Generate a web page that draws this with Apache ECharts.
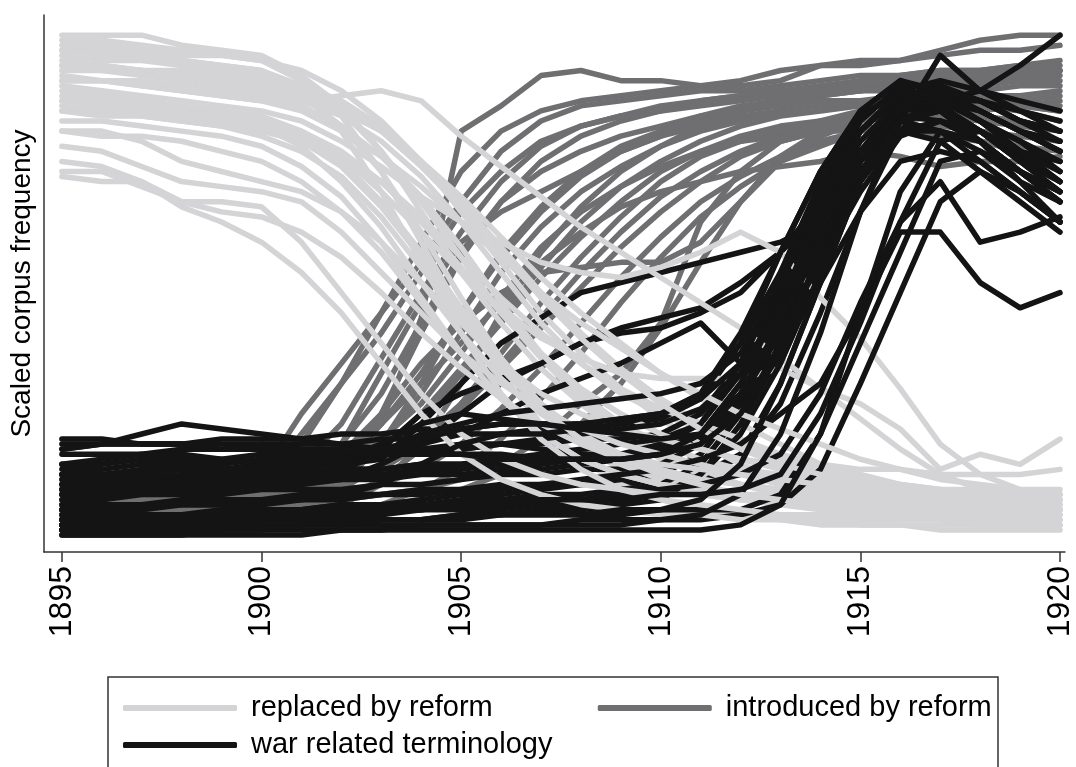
<!DOCTYPE html>
<html><head><meta charset="utf-8">
<script src="https://cdn.jsdelivr.net/npm/echarts@6/dist/echarts.min.js"></script>
<style>html,body{margin:0;padding:0;background:#fff}#c{width:1076px;height:767px}</style>
</head><body><div id="c"></div>
<script>
const years = [1895,1896,1897,1898,1899,1900,1901,1902,1903,1904,1905,1906,1907,1908,1909,1910,1911,1912,1913,1914,1915,1916,1917,1918,1919,1920];
const tickYears = [1895,1900,1905,1910,1915,1920];
const groupNames = ['replaced by reform','introduced by reform','war related terminology'];
const groupColors = ['#d4d3d5','#6f6e71','#141414'];

const replacedByReform = [
[99,99,99,97,96,95,91,85,76,64,52,42,33,26,20,15,12,10,8,7,6,5,4,3,3,3],
[98,98,97,96,95,94,90,83,72,58,44,32,22,15,10,7,5,4,3,2,2,2,1,1,1,1],
[97,97,96,95,95,94,92,88,82,74,64,54,44,36,29,23,18,14,11,9,7,6,5,4,4,3],
[96,96,95,94,93,92,89,84,76,66,55,44,35,27,21,16,13,10,8,6,5,4,4,3,3,3],
[95,94,94,93,92,91,89,86,81,74,66,57,48,40,33,27,22,18,15,12,10,8,7,6,5,5],
[94,93,92,92,91,90,87,81,72,60,47,35,25,18,13,10,8,7,6,5,4,4,3,3,2,2],
[93,93,92,91,90,89,87,84,80,74,67,59,51,44,38,32,27,22,18,14,11,9,8,7,6,6],
[92,92,91,90,89,88,86,83,78,71,62,52,42,34,28,24,21,18,16,14,12,10,9,8,7,7],
[91,90,90,89,88,87,85,81,75,67,57,46,36,28,22,18,15,13,12,11,10,9,8,8,8,8],
[90,90,89,88,87,86,86,87,88,86,79,73,67,61,56,51,46,41,35,29,23,17,12,9,8,8],
[89,88,87,86,85,84,82,78,73,67,62,58,54,52,51,53,56,60,56,47,39,29,18,12,9,7],
[88,87,86,85,84,83,80,75,68,60,52,45,39,35,32,31,31,31,33,29,26,21,13,16,14,19],
[87,86,85,84,83,82,80,76,70,62,53,44,36,29,24,20,17,15,14,14,13,13,12,12,12,13],
[86,85,84,84,83,82,79,74,66,56,45,35,26,19,14,11,9,8,7,6,5,5,4,4,4,4],
[85,84,84,83,82,81,78,73,65,55,44,34,26,20,16,13,11,10,9,9,8,8,7,7,7,7],
[84,84,83,82,81,80,78,75,70,63,55,47,40,34,29,25,22,19,16,13,11,10,9,9,8,8],
[82,82,81,80,79,77,73,67,58,47,36,27,20,15,12,10,9,8,7,7,6,6,5,5,5,5],
[80,79,79,78,76,74,70,64,56,46,36,27,20,15,12,10,9,8,8,7,7,6,6,6,6,6],
[80,80,78,74,72,70,68,64,58,50,42,34,28,24,21,19,17,15,13,11,9,8,7,6,6,5],
[77,76,73,70,69,68,66,60,52,44,36,30,25,21,18,16,14,12,10,9,8,7,6,5,5,5],
[74,73,70,66,64,63,60,55,48,40,33,27,22,18,15,13,11,10,9,8,7,6,6,5,5,5],
[72,72,69,66,66,65,58,48,38,28,20,15,12,10,9,8,8,7,7,6,6,6,5,5,5,5],
[71,70,70,65,62,58,52,44,34,24,16,11,8,6,5,4,4,3,3,3,2,2,2,2,2,2],
[96,95,95,94,93,92,88,80,68,54,40,28,19,13,9,7,6,5,4,4,3,3,3,2,2,2],
[90,90,89,88,87,86,84,80,75,69,62,55,48,42,37,32,28,24,21,18,15,13,11,10,9,9],
[86,86,85,84,83,81,77,70,61,50,40,31,24,19,16,14,13,12,11,10,9,8,8,7,7,7],
[93,92,92,91,90,90,88,85,80,73,65,56,47,39,32,26,21,17,14,12,10,9,8,7,7,6],
[84,83,83,82,81,79,76,71,63,53,43,33,25,19,15,12,10,8,7,6,6,5,5,4,4,4]
];

const introducedByReform = [
[4,4,5,5,6,7,9,13,22,43,80,85,91,92,90,90,89,89,90,93,94,94,95,96,96,97],
[3,3,4,4,5,8,18,30,44,58,72,80,84,86,87,88,89,90,92,93,93,94,96,98,99,99],
[6,6,7,7,8,12,24,34,44,54,66,76,82,85,86,87,88,88,89,90,91,91,92,92,93,93],
[8,8,9,9,10,11,14,22,35,48,60,70,77,81,83,85,86,87,88,88,89,90,90,91,91,92],
[2,2,2,3,3,4,6,12,24,40,55,66,74,79,82,84,86,87,88,89,90,91,92,92,93,94],
[10,10,10,11,11,12,14,18,28,42,56,66,72,76,79,81,83,84,85,86,86,87,88,88,89,89],
[4,4,5,5,6,7,10,18,32,46,58,64,68,72,76,79,82,84,86,87,88,88,87,86,85,84],
[1,1,2,2,3,4,6,10,18,30,44,56,65,72,77,80,83,85,86,87,88,89,90,90,91,91],
[7,7,7,8,8,9,11,15,22,32,44,55,64,71,76,79,81,83,84,85,86,86,87,87,87,88],
[5,5,6,6,7,8,9,12,18,28,40,52,61,68,73,77,80,82,84,85,85,86,86,85,84,82],
[3,3,3,4,4,5,6,9,14,22,32,43,53,62,69,74,78,81,83,84,85,85,84,83,82,80],
[9,9,9,10,10,10,11,13,17,24,33,42,51,59,66,72,76,79,81,82,83,82,80,78,77,76],
[2,2,3,3,3,4,5,7,11,17,26,36,46,55,63,70,75,78,80,82,84,86,88,89,90,92],
[6,6,6,7,7,8,9,11,14,19,26,34,43,52,60,67,72,76,79,81,83,84,83,80,78,74],
[4,4,4,5,5,6,7,8,10,13,18,25,33,42,51,59,66,71,75,78,80,82,84,85,86,87],
[1,1,1,2,2,2,3,4,6,9,13,19,27,36,46,55,63,69,74,77,80,82,83,84,85,86],
[3,3,3,3,4,4,5,5,6,7,9,12,16,22,30,41,54,66,75,80,83,84,85,86,85,84],
[5,5,5,5,6,6,6,7,8,9,11,14,19,26,32,42,62,72,78,80,81,80,79,78,76,74],
[7,7,8,8,9,10,12,16,24,34,42,48,52,53,54,54,58,66,74,79,82,84,85,86,86,85],
[8,8,8,9,9,10,12,16,22,30,38,46,54,60,65,68,70,72,73,74,76,75,73,74,74,75],
[2,2,2,2,3,3,4,6,10,18,30,44,56,65,72,77,81,84,86,88,89,90,91,91,92,92],
[5,5,5,6,7,10,20,30,40,52,64,72,78,81,83,84,85,86,87,88,88,89,89,90,90,90],
[11,11,11,11,12,12,13,15,19,26,36,47,57,64,69,73,76,78,79,80,80,81,81,80,79,78],
[6,6,6,6,7,7,8,10,13,18,25,33,41,49,57,64,70,75,78,80,82,83,83,82,81,80]
];

const warTerminology = [
[3,3,4,4,4,5,5,6,6,7,8,8,9,10,10,11,12,16,26,44,64,82,95,88,84,80],
[2,2,2,3,3,3,4,4,5,5,6,6,7,7,8,9,10,16,30,50,70,82,86,88,93,99],
[17,18,20,22,21,20,19,18,17,16,17,18,17,16,16,17,19,26,40,58,74,84,85,80,74,68],
[10,10,11,11,12,12,13,14,17,24,28,31,34,38,40,41,44,48,56,66,76,83,82,78,72,66],
[12,12,12,13,13,13,14,14,15,22,30,38,43,48,50,52,54,56,58,62,72,82,85,80,75,70],
[12,12,13,13,13,14,14,15,16,18,20,24,28,31,34,38,42,34,48,64,76,82,80,74,68,62],
[9,9,9,10,10,10,11,11,14,18,24,30,34,38,41,43,45,50,56,64,74,82,84,78,72,66],
[8,8,9,9,9,10,10,11,11,12,12,13,13,14,15,16,20,30,44,60,76,86,88,84,80,76],
[5,5,5,6,6,6,7,7,8,8,9,9,10,10,11,12,16,26,40,56,74,84,86,82,76,70],
[13,13,14,14,14,15,15,16,16,17,17,18,18,19,19,20,24,34,48,64,78,86,84,78,72,66],
[1,1,1,2,2,2,2,3,3,3,4,4,5,5,6,7,12,22,36,54,72,82,86,84,80,78],
[16,16,16,17,17,18,18,18,19,19,20,20,21,21,22,23,27,38,52,68,80,87,85,80,74,68],
[10,10,10,11,11,12,12,13,13,14,14,15,16,17,18,19,22,32,46,62,76,84,86,86,84,82],
[7,7,8,8,8,9,9,9,10,10,11,12,12,13,13,14,18,27,40,54,68,79,82,78,70,62],
[4,4,4,4,5,5,5,6,6,6,7,7,8,8,9,10,14,24,38,56,74,85,88,86,82,80],
[18,18,18,18,19,19,19,20,20,21,21,22,22,22,23,24,28,40,56,72,84,90,87,82,78,72],
[11,11,11,12,12,12,13,13,13,14,14,15,15,16,16,17,20,28,42,58,72,80,80,76,70,66],
[2,2,3,3,3,3,4,4,4,5,5,5,6,6,7,8,12,20,34,52,70,80,82,80,76,74],
[9,9,10,10,11,11,12,12,12,13,13,14,14,15,16,18,22,34,50,68,82,89,89,86,82,80],
[14,14,15,15,15,16,16,16,17,17,18,18,19,20,21,22,25,32,46,60,74,80,78,72,66,60],
[6,6,6,7,7,7,8,8,8,9,9,10,10,11,12,13,15,18,24,30,44,60,60,50,45,48],
[3,3,3,3,4,4,4,5,5,5,6,6,7,7,8,9,10,12,16,28,46,62,70,58,60,63],
[1,1,1,1,1,1,2,2,2,2,2,2,2,2,2,3,3,4,6,13,30,48,66,72,68,62],
[2,2,2,2,3,3,3,3,3,3,4,4,4,4,4,5,5,5,8,20,38,56,74,76,72,68],
[8,8,9,9,10,10,11,13,16,20,22,24,25,26,27,28,30,36,50,66,80,87,86,82,78,74],
[12,12,12,13,13,13,14,15,18,22,24,23,22,22,23,24,27,34,52,70,83,88,87,82,76,70],
[5,5,6,6,6,7,7,8,10,14,18,20,20,21,22,24,28,38,56,72,84,90,88,84,80,76],
[0,0,0,0,1,1,1,1,1,2,2,2,2,3,3,3,4,8,20,40,64,80,88,86,82,78],
[17,18,18,18,18,18,17,17,17,16,16,16,15,15,15,16,18,24,36,50,64,74,76,74,68,62],
[19,19,18,18,17,17,17,17,16,16,16,15,15,15,15,16,20,30,46,64,80,88,90,88,86,84],
[0,0,0,0,0,0,0,1,1,1,1,1,1,1,1,1,1,2,6,20,44,68,80,78,72,68],
[1,1,1,1,2,2,2,2,3,3,3,4,4,4,5,5,7,14,30,50,70,82,84,80,74,70],
[14,15,16,16,15,14,14,15,17,19,21,22,22,21,20,19,20,28,42,60,76,84,86,84,80,76],
[3,3,4,4,4,4,5,5,5,6,6,6,7,7,7,8,8,9,12,24,42,62,78,80,76,72]
];

const FONT = '"Liberation Sans", Arial, sans-serif';

function makeSeries(groupIdx, vals) {
  const color = groupColors[groupIdx];
  return {
    type: 'line', name: groupNames[groupIdx],
    data: vals.map((v, i) => [years[i], v]),
    symbol: 'none', showSymbol: false, silent: true,
    lineStyle: { width: 5.5, color: color, cap: 'round', join: 'round' },
    itemStyle: { color: color },
    emphasis: { disabled: true }
  };
}

const series = [];
introducedByReform.forEach(v => series.push(makeSeries(1, v)));
const n = Math.max(replacedByReform.length, warTerminology.length);
for (let i = 0; i < n; i++) {
  if (i < warTerminology.length) series.push(makeSeries(2, warTerminology[i]));
  if (i < replacedByReform.length) series.push(makeSeries(0, replacedByReform[i]));
}

const chart = echarts.init(document.getElementById('c'), null, { renderer: 'canvas' });
const legendText = { fontSize: 29, fontFamily: FONT, color: '#000', lineHeight: 32, padding: [0, 0, 0, 9] };
chart.setOption({
  animation: false,
  backgroundColor: '#fff',
  grid: { left: 42, right: 6, top: 15, bottom: 215 },
  xAxis: {
    type: 'value', min: 1894.552, max: 1920.124,
    axisLine: { show: true, onZero: false, lineStyle: { color: '#333', width: 1.5 } },
    axisTick: { show: true, length: 10, customValues: tickYears, lineStyle: { color: '#333', width: 1.5 } },
    axisLabel: { customValues: tickYears, formatter: v => String(v), rotate: 90, fontSize: 32, fontFamily: FONT, color: '#000', margin: 14 },
    splitLine: { show: false }
  },
  yAxis: {
    type: 'value', min: -3.37, max: 103,
    axisLine: { show: true, onZero: false, lineStyle: { color: '#333', width: 1.5 } },
    axisTick: { show: false }, axisLabel: { show: false }, splitLine: { show: false },
    name: 'Scaled corpus frequency', nameLocation: 'middle', nameGap: 8,
    nameTextStyle: { fontSize: 28, fontFamily: FONT, color: '#000' }
  },
  legend: [
    { data: [groupNames[0], groupNames[1]], left: 123, top: 692, itemWidth: 114, itemHeight: 6,
      itemGap: 105, icon: 'roundRect', padding: 0, selectedMode: false, textStyle: legendText },
    { data: [groupNames[2]], left: 123, top: 729, itemWidth: 114, itemHeight: 6,
      icon: 'roundRect', padding: 0, selectedMode: false, textStyle: legendText }
  ],
  graphic: [
    { type: 'rect', shape: { x: 108, y: 677, width: 890, height: 130 },
      style: { fill: 'none', stroke: '#333', lineWidth: 1.5 }, silent: true }
  ],
  series: series
});
</script>
</body></html>
